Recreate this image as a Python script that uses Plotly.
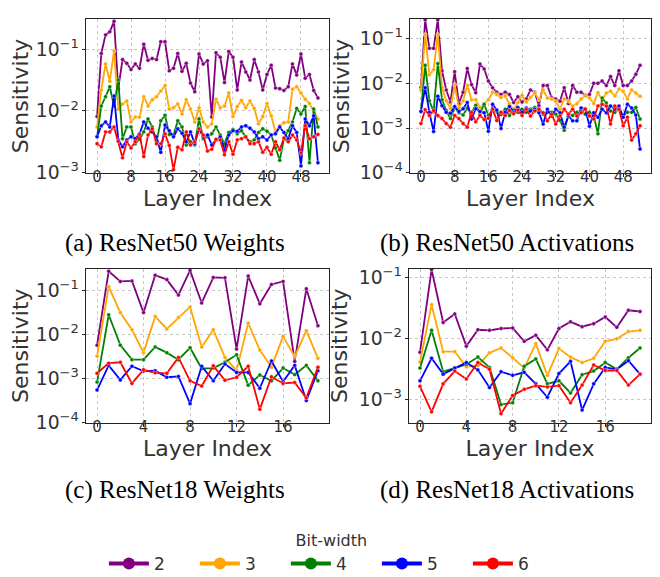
import numpy as np
import plotly.graph_objects as go

bit_widths = ["2", "3", "4", "5", "6"]
colors = ["purple", "orange", "green", "blue", "red"]

layers50 = list(range(53))
layers18 = list(range(20))

# log10 sensitivity values
r50_w_log = {
    "2": [-2.09, -1.07, -0.77, -0.72, -0.55, -1.64, -1.17, -1.23, -1.33, -1.24, -1.31, -0.92, -1.18, -1.15, -1.17, -0.88, -0.88, -1.35, -1.31, -1.07, -1.36, -1.23, -1.55, -1.69, -1.08, -1.24, -1.19, -2.10, -1.06, -1.13, -1.54, -1.04, -1.13, -1.66, -1.21, -1.37, -1.50, -1.17, -1.37, -1.66, -1.41, -1.26, -1.63, -1.64, -1.67, -1.61, -1.24, -1.42, -1.08, -1.47, -1.41, -1.67, -1.79],
    "3": [-2.26, -1.66, -1.24, -1.52, -1.03, -1.97, -1.89, -1.84, -2.18, -2.10, -2.10, -1.77, -1.92, -1.82, -1.77, -1.68, -1.59, -1.97, -1.95, -1.89, -2.05, -1.82, -1.97, -2.18, -1.95, -2.18, -2.26, -2.21, -1.81, -1.95, -1.92, -1.71, -2.09, -1.93, -1.83, -1.95, -1.84, -1.96, -2.21, -2.09, -1.88, -2.08, -2.34, -2.24, -2.19, -2.18, -1.65, -1.61, -1.71, -1.81, -1.88, -2.00, -2.13],
    "4": [-2.42, -1.92, -1.77, -1.61, -1.92, -1.50, -2.45, -2.26, -2.26, -2.53, -2.46, -2.34, -2.13, -2.26, -2.50, -2.16, -2.07, -2.38, -2.39, -2.16, -2.26, -2.55, -2.50, -2.55, -2.13, -2.45, -2.42, -2.37, -2.26, -2.39, -2.53, -2.35, -2.30, -2.37, -2.32, -2.42, -2.50, -2.47, -2.35, -2.29, -2.33, -2.39, -2.60, -2.80, -2.45, -2.32, -2.18, -1.96, -2.05, -1.93, -2.84, -1.97, -2.26],
    "5": [-2.42, -2.24, -2.18, -2.26, -1.76, -2.47, -2.58, -2.47, -2.42, -2.45, -2.37, -2.18, -2.28, -2.34, -2.42, -2.67, -2.23, -2.32, -2.42, -2.29, -2.36, -2.50, -2.34, -2.53, -2.29, -2.42, -2.39, -2.55, -2.47, -2.42, -2.63, -2.39, -2.32, -2.33, -2.26, -2.24, -2.28, -2.34, -2.45, -2.42, -2.47, -2.39, -2.37, -2.26, -2.35, -2.45, -2.24, -2.35, -2.89, -2.13, -2.24, -2.08, -2.84],
    "6": [-2.53, -2.58, -2.34, -2.34, -2.26, -2.49, -2.76, -2.50, -2.60, -2.50, -2.38, -2.74, -2.39, -2.29, -2.53, -2.53, -2.37, -2.56, -2.95, -2.59, -2.63, -2.34, -2.55, -2.50, -2.29, -2.39, -2.65, -2.62, -2.46, -2.47, -2.71, -2.50, -2.70, -2.47, -2.45, -2.42, -2.53, -2.53, -2.50, -2.67, -2.59, -2.70, -2.50, -2.63, -2.44, -2.50, -2.39, -2.47, -2.68, -2.24, -2.45, -2.42, -2.38],
}

r50_a_log = {
    "2": [-2.10, -0.58, -1.22, -1.22, -0.58, -1.72, -2.15, -2.42, -1.74, -2.45, -2.20, -1.67, -2.03, -2.21, -1.57, -1.68, -1.95, -2.10, -2.20, -2.25, -2.20, -2.25, -2.43, -2.30, -2.42, -2.35, -2.15, -2.20, -2.50, -2.05, -2.05, -2.32, -2.35, -2.40, -2.10, -2.45, -2.05, -2.20, -2.20, -2.27, -2.25, -2.00, -2.00, -1.95, -2.05, -1.85, -2.05, -1.72, -2.05, -2.05, -1.95, -1.80, -1.60],
    "3": [-2.15, -0.91, -1.81, -1.70, -0.91, -2.10, -2.39, -2.56, -2.03, -2.55, -2.39, -2.05, -2.37, -2.37, -2.54, -2.46, -2.37, -2.20, -2.25, -2.32, -2.28, -2.46, -2.60, -2.43, -2.27, -2.42, -2.31, -2.22, -2.37, -2.15, -2.33, -2.35, -2.40, -2.58, -2.35, -2.40, -2.51, -2.46, -2.35, -2.28, -2.33, -2.45, -2.21, -2.37, -2.22, -2.18, -2.28, -2.13, -2.18, -2.35, -2.15, -2.22, -2.29],
    "4": [-2.63, -1.60, -2.39, -2.63, -1.56, -2.37, -2.61, -2.79, -2.54, -2.66, -2.71, -2.56, -2.66, -2.49, -2.68, -2.47, -2.72, -2.60, -2.63, -2.70, -2.58, -2.72, -2.60, -2.65, -2.58, -2.65, -2.58, -2.54, -2.58, -2.69, -2.65, -2.65, -2.69, -2.83, -3.05, -2.72, -2.72, -2.65, -2.62, -2.69, -2.65, -2.72, -3.13, -2.33, -2.44, -2.62, -2.65, -2.58, -2.73, -2.65, -2.65, -2.54, -2.80],
    "5": [-2.63, -2.10, -2.65, -3.08, -2.29, -2.50, -2.65, -2.67, -2.52, -2.63, -2.57, -2.43, -2.80, -2.57, -2.63, -2.66, -3.07, -2.47, -2.60, -3.01, -2.65, -2.52, -2.65, -2.54, -2.65, -2.55, -2.62, -2.58, -2.66, -2.91, -2.58, -2.73, -2.58, -2.66, -2.98, -2.73, -2.84, -2.84, -2.55, -2.57, -2.96, -2.66, -2.76, -2.58, -2.66, -2.51, -2.58, -2.51, -2.76, -2.47, -2.55, -2.71, -3.47],
    "6": [-2.90, -2.59, -2.72, -2.61, -2.72, -2.79, -2.90, -2.98, -2.72, -2.79, -2.90, -2.98, -2.65, -2.86, -2.72, -2.81, -2.78, -2.58, -2.83, -2.65, -2.72, -2.61, -2.68, -2.60, -2.72, -2.58, -2.73, -2.62, -2.58, -2.66, -2.84, -2.69, -2.91, -2.73, -2.58, -2.69, -2.58, -2.73, -2.66, -2.58, -2.73, -2.80, -2.51, -2.47, -2.51, -2.91, -2.51, -2.58, -2.95, -2.76, -3.27, -3.13, -2.95],
}

r18_w_log = {
    "2": [-2.24, -0.56, -0.79, -0.78, -1.50, -0.65, -0.75, -1.10, -0.54, -1.28, -0.70, -0.71, -2.33, -0.67, -1.30, -0.86, -0.79, -2.61, -0.96, -1.80],
    "3": [-2.49, -0.91, -1.50, -1.89, -2.41, -1.59, -1.87, -1.61, -1.37, -2.28, -1.89, -2.52, -2.82, -1.74, -2.35, -2.74, -2.04, -2.50, -1.91, -2.54],
    "4": [-3.08, -1.55, -2.24, -2.57, -2.57, -2.28, -2.41, -2.57, -2.30, -2.77, -2.76, -2.63, -2.46, -3.15, -2.92, -3.05, -2.76, -2.91, -2.70, -3.05],
    "5": [-3.26, -2.70, -3.03, -2.72, -2.83, -2.82, -2.97, -2.95, -3.57, -2.72, -3.05, -2.67, -2.86, -2.86, -3.22, -2.60, -3.07, -2.70, -3.50, -2.82],
    "6": [-2.88, -2.65, -2.63, -3.11, -2.80, -2.87, -2.88, -2.52, -3.05, -3.17, -2.71, -3.04, -2.97, -2.72, -3.70, -2.96, -3.11, -3.09, -3.44, -2.74],
}

r18_a_log = {
    "2": [-2.23, -0.87, -1.74, -1.60, -2.13, -1.86, -1.87, -1.84, -1.83, -2.05, -1.95, -2.19, -1.84, -1.73, -1.81, -1.76, -1.65, -1.82, -1.54, -1.56],
    "3": [-2.39, -1.45, -2.22, -2.22, -2.47, -2.45, -2.24, -2.16, -2.32, -2.49, -2.09, -2.61, -2.17, -2.31, -2.40, -2.33, -2.05, -2.01, -1.89, -1.87],
    "4": [-2.49, -1.87, -2.55, -2.49, -2.43, -2.31, -2.48, -3.09, -3.06, -2.46, -2.34, -2.75, -2.70, -2.90, -2.60, -2.54, -2.40, -2.51, -2.32, -2.16],
    "5": [-2.70, -2.33, -2.59, -2.49, -2.40, -2.52, -2.81, -2.55, -2.61, -2.56, -2.75, -2.97, -2.58, -2.38, -3.18, -2.75, -2.48, -2.51, -2.37, -2.59],
    "6": [-2.79, -3.21, -2.75, -2.54, -2.67, -2.40, -2.51, -3.24, -2.94, -2.84, -2.78, -2.80, -2.78, -3.06, -2.77, -2.44, -2.53, -2.53, -2.77, -2.59],
}

captions = ["(a) ResNet50 Weights", "(b) ResNet50 Activations",
            "(c) ResNet18 Weights", "(d) ResNet18 Activations"]
x_title = "Layer Index"
y_title = "Sensitivity"
legend_title = "Bit-width"

W, H = 660, 577

def px_x(p):
    return p / W

def px_y(p):
    return 1 - p / H

panels = [
    dict(data=r50_w_log, x=layers50, xd=[78, 321], yd=[7, 165], xr=[-2.6, 54.6], yr=[-3.005, -0.51], dt=8, cap=(167, 237)),
    dict(data=r50_a_log, x=layers50, xd=[402, 643], yd=[7, 165], xr=[-2.6, 54.6], yr=[-4.005, -0.56], dt=8, cap=(499, 237)),
    dict(data=r18_w_log, x=layers18, xd=[78, 321], yd=[263, 421], xr=[-0.95, 19.95], yr=[-4.005, -0.5], dt=4, cap=(167, 490)),
    dict(data=r18_a_log, x=layers18, xd=[401, 643], yd=[263, 421], xr=[-0.95, 19.95], yr=[-3.39, -0.855], dt=4, cap=(499, 490)),
]

fig = go.Figure()
layout = dict(
    width=W, height=H, margin=dict(l=0, r=0, t=0, b=0),
    paper_bgcolor="white", plot_bgcolor="white",
    font=dict(family="DejaVu Sans", color="#333333"),
    showlegend=True,
)

tick_font = dict(family="DejaVu Sans", size=15, color="#333333")
title_font = dict(family="DejaVu Sans", size=22, color="#333333")

annotations = []
for k, p in enumerate(panels):
    sfx = "" if k == 0 else str(k + 1)
    xa, ya = "x" + sfx, "y" + sfx
    for b, c in zip(bit_widths, colors):
        vals = [10 ** v for v in p["data"][b]]
        fig.add_trace(go.Scatter(
            x=p["x"], y=vals, mode="lines+markers", xaxis=xa, yaxis=ya,
            line=dict(color=c, width=1.8),
            marker=dict(color=c, size=4, line=dict(color="white", width=0.4)),
            showlegend=False, name=b, hoverinfo="skip",
        ))
    layout["xaxis" + sfx] = dict(
        domain=[px_x(p["xd"][0]), px_x(p["xd"][1])], anchor=ya,
        range=p["xr"], tick0=0, dtick=p["dt"], tickmode="linear",
        showgrid=True, gridcolor="#c8c8c8", griddash="dot", gridwidth=1,
        showline=True, mirror=True, linecolor="#222222", linewidth=1.2,
        ticks="outside", ticklen=3, tickcolor="#222222",
        ticklabelstandoff=-13,
        tickfont=tick_font, zeroline=False,
        title=dict(text=x_title, font=title_font, standoff=0),
    )
    layout["yaxis" + sfx] = dict(
        domain=[px_y(p["yd"][1]), px_y(p["yd"][0])], anchor=xa,
        type="log", range=p["yr"], dtick=1, exponentformat="power",
        showgrid=True, gridcolor="#c8c8c8", griddash="dot", gridwidth=1,
        showline=True, mirror=True, linecolor="#222222", linewidth=1.2,
        ticks="outside", ticklen=3, tickcolor="#222222",
        tickfont=tick_font, zeroline=False,
        title=dict(text=y_title, font=title_font, standoff=4),
    )
    annotations.append(dict(
        text=captions[k], x=px_x(p["cap"][0]), y=px_y(p["cap"][1]), xref="paper", yref="paper",
        showarrow=False, xanchor="center", yanchor="middle",
        font=dict(family="Liberation Serif", size=25, color="black"),
    ))

# legend-only traces
for b, c in zip(bit_widths, colors):
    fig.add_trace(go.Scatter(
        x=[None], y=[None], mode="lines+markers", name=b,
        line=dict(color=c, width=4),
        marker=dict(color=c, size=12),
        showlegend=True,
    ))

layout["annotations"] = annotations
layout["legend"] = dict(
    orientation="h", x=0.49, xanchor="center", y=px_y(526), yanchor="top",
    title=dict(text=legend_title, side="top center",
               font=dict(family="DejaVu Sans", size=16, color="#333333")),
    font=dict(family="DejaVu Sans", size=17, color="#333333"),
    entrywidth=36, entrywidthmode="pixels", itemwidth=40,
    bgcolor="rgba(0,0,0,0)",
)
fig.update_layout(**layout)
fig.write_html("out.html")
